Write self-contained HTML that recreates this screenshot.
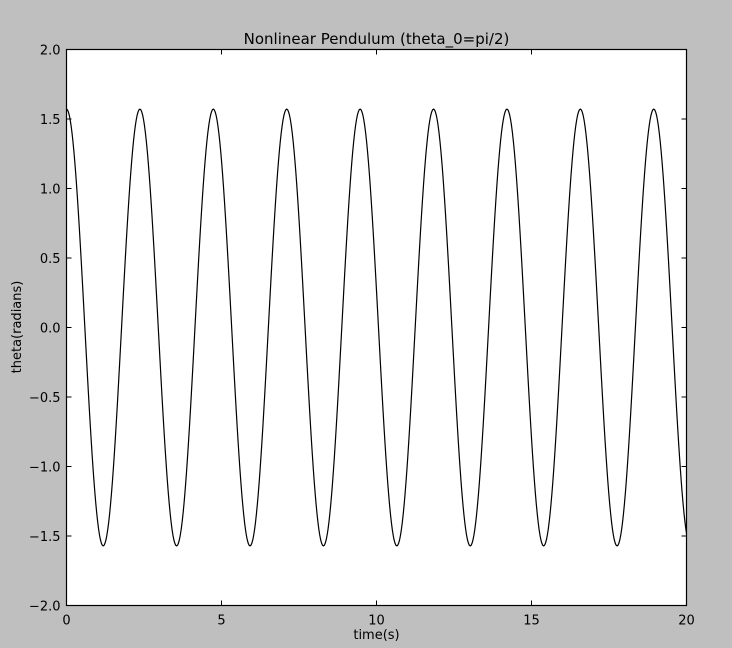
<!DOCTYPE html>
<html><head><meta charset="utf-8"><style>
body{margin:0;background:#bfbfbf;width:732px;height:643px;overflow:hidden}
svg text{font-family:"DejaVu Sans","Liberation Sans",sans-serif;fill:#000}
</style></head><body>
<svg id="chart" width="732" height="643" xmlns="http://www.w3.org/2000/svg"></svg>
<script>
const extremaTimes=[0,1.184,2.368,3.552,4.736,5.92,7.104,8.288,9.472,10.656,11.84,13.024,14.208,15.392,16.576,17.76,18.944,20.128];
const extremaValues=[1.571,-1.571,1.571,-1.571,1.571,-1.571,1.571,-1.571,1.571,-1.571,1.571,-1.571,1.571,-1.571,1.571,-1.571,1.571,-1.571];
const xTicks=[0,5,10,15,20];
const yTicks=[-2.0,-1.5,-1.0,-0.5,0.0,0.5,1.0,1.5,2.0];
const L=66.5,R=686.5,T=49.5,B=605.5;
const sx=v=>L+(v-0)/20*(R-L);
const sy=v=>B-(v+2)/4*(B-T);
const svg=document.getElementById('chart');
const NS='http://www.w3.org/2000/svg';
function mk(tag,attrs,parent){const e=document.createElementNS(NS,tag);for(const k in attrs)e.setAttribute(k,attrs[k]);(parent||svg).appendChild(e);return e;}
const bg=mk('rect',{x:L,y:T,width:R-L,height:B-T,fill:'#fff'});


mk('clipPath',{id:'clip'}).appendChild(document.createElementNS(NS,'rect'));
const cr=document.querySelector('#clip rect');cr.setAttribute('x',L);cr.setAttribute('y',T);cr.setAttribute('width',R-L);cr.setAttribute('height',B-T);
let d='';
for(let i=0;i<extremaTimes.length-1;i++){
  const t0=extremaTimes[i],t1=extremaTimes[i+1],v0=extremaValues[i],v1=extremaValues[i+1];
  for(let k=0;k<=40;k++){const f=k/40;const t=t0+(t1-t0)*f;const v=v1+(v0-v1)*(1+Math.cos(Math.PI*f))/2;
    d+=(d?'L':'M')+sx(t).toFixed(2)+' '+sy(v).toFixed(2);}
}
const line=mk('path',{d:d,fill:'none',stroke:'#000','stroke-width':1.2,'clip-path':'url(#clip)'});


const frame=mk('rect',{x:L,y:T,width:R-L,height:B-T,fill:'none',stroke:'#000','stroke-width':1.2});


xTicks.forEach(v=>{const x=sx(v);
  mk('line',{x1:x,x2:x,y1:B,y2:B-5,stroke:'#000'});mk('line',{x1:x,x2:x,y1:T,y2:T+5,stroke:'#000'});
  const t=mk('text',{x:x,y:B+19,'font-size':13,'text-anchor':'middle'});t.textContent=v;
  
  });
yTicks.forEach(v=>{const y=sy(v);
  mk('line',{x1:L,x2:L+5,y1:y,y2:y,stroke:'#000'});mk('line',{x1:R,x2:R-5,y1:y,y2:y,stroke:'#000'});
  const t=mk('text',{x:L-6,y:y+5,'font-size':13,'text-anchor':'end'});t.textContent=v.toFixed(1).replace('-','\u2212');
  
  });
const title=mk('text',{x:(L+R)/2,y:44,'font-size':15,'text-anchor':'middle'});title.textContent='Nonlinear Pendulum (theta_0=pi/2)';


const xl=mk('text',{x:(L+R)/2,y:639,'font-size':13,'text-anchor':'middle'});xl.textContent='time(s)';


const yl=mk('text',{x:0,y:0,'font-size':13,'text-anchor':'middle',transform:'translate(21,327) rotate(-90)'});yl.textContent='theta(radians)';


</script>
</body></html>
